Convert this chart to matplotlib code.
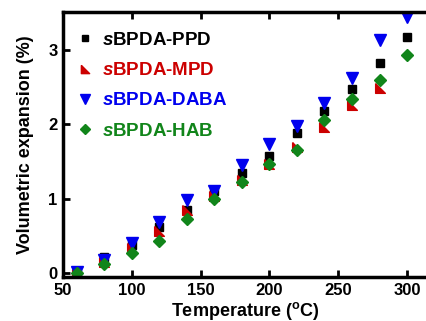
import numpy as np
import matplotlib
matplotlib.use("Agg")
from matplotlib import pyplot as plt

plt.rcParams['font.family'] = ['Liberation Sans', 'DejaVu Sans']
plt.rcParams['font.weight'] = 'bold'
plt.rcParams['mathtext.fontset'] = 'custom'
plt.rcParams['mathtext.it'] = 'Liberation Sans:italic:bold'
plt.rcParams['mathtext.rm'] = 'Liberation Sans:bold'
plt.rcParams['mathtext.bf'] = 'Liberation Sans:bold'

# data
temps = [60, 80, 100, 120, 140, 160, 180, 200, 220, 240, 260, 280, 300]
ppd = [0.0, 0.22, 0.38, 0.62, 0.85, 1.10, 1.34, 1.58, 1.88, 2.18, 2.48, 2.83, 3.17]
mpd = [-0.02, 0.15, 0.33, 0.57, 0.85, 1.03, 1.25, 1.47, 1.69, 1.97, 2.26, 2.49]
daba = [0.01, 0.18, 0.41, 0.69, 0.98, 1.10, 1.45, 1.74, 1.98, 2.28, 2.62, 3.13, 3.44]
hab = [0.0, 0.12, 0.27, 0.43, 0.72, 1.0, 1.23, 1.46, 1.65, 2.06, 2.34, 2.60, 2.93]

xticks = [50, 100, 150, 200, 250, 300]
yticks = [0, 1, 2, 3]

# lower-left right triangle marker
corner = [(-1, 1), (-1, -1), (1, -1), (-1, 1)]

fig = plt.figure(figsize=(4.27, 3.21), dpi=100)
ax = fig.add_axes([0.1475, 0.137, 0.8525, 0.8255])

ax.plot(temps, ppd, 's', color='black', ms=5.5, ls='none', label=r'$\it{s}$BPDA-PPD')
ax.plot(temps[:len(mpd)], mpd, marker=corner, color='#cc0000', ms=7, ls='none', label=r'$\it{s}$BPDA-MPD')
ax.plot(temps, daba, 'v', color='#0000ee', ms=8, ls='none', label=r'$\it{s}$BPDA-DABA')
ax.plot(temps, hab, 'D', color='#11851a', ms=6, ls='none', label=r'$\it{s}$BPDA-HAB')

ax.set_xlim(50, 314.5)
ax.set_ylim(-0.054, 3.51)
ax.set_xticks(xticks)
ax.set_yticks(yticks)

for side in ['left', 'bottom', 'top']:
    ax.spines[side].set_linewidth(2.5)
ax.spines['right'].set_visible(False)
ax.tick_params(direction='in', length=5, width=2, labelsize=12, top=True, right=False, pad=4)

ax.set_xlabel(r'Temperature ($^{\mathrm{o}}$C)', fontsize=13, fontweight='bold', labelpad=2)
ax.set_ylabel('Volumetric expansion (%)', fontsize=13, fontweight='bold', labelpad=10)

leg = ax.legend(loc='upper left', frameon=False, fontsize=13.5, handletextpad=0.5,
                labelspacing=0.7, borderaxespad=0.3, handlelength=0.9,
                labelcolor='markerfacecolor', markerscale=0.85,
                bbox_to_anchor=(0.0, 0.975))

fig.savefig('out.png', dpi=100)
